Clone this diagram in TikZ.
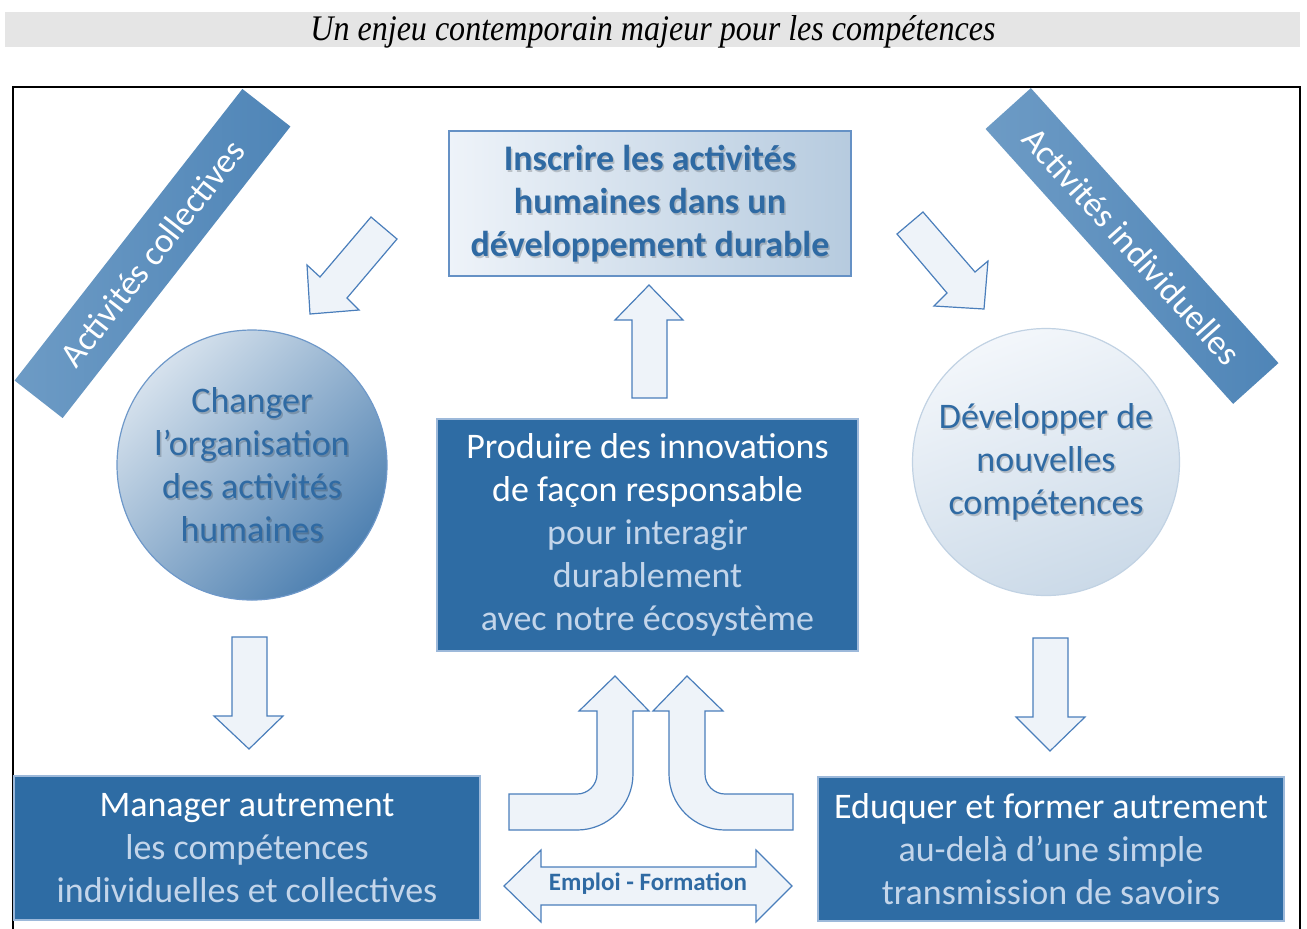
\documentclass[tikz,border=0pt]{standalone}
\usepackage{fontspec}
\setmainfont{Carlito}
\newfontfamily\titlefont{Liberation Serif}
\definecolor{darkbox}{HTML}{2E6CA4}
\definecolor{lighttext}{HTML}{C3D5EA}
\definecolor{boxedge}{HTML}{9DB9DA}
\definecolor{arrowfill}{HTML}{EEF3F9}
\definecolor{arrowdraw}{HTML}{4A7EBB}
\definecolor{bluetext}{HTML}{2F6AA3}
\definecolor{bannerlight}{HTML}{6D9BC5}
\definecolor{bannerdark}{HTML}{4F85B7}
\definecolor{titlebar}{HTML}{E5E5E5}
\newcommand\txtTop{Inscrire les activités\\humaines dans un\\développement durable}
\newcommand\txtLeft{Changer\\l’organisation\\des activités\\humaines}
\newcommand\txtRight{Développer de\\nouvelles\\compétences}
\begin{document}
\begin{tikzpicture}[x=0.5pt,y=-0.5pt,
  blockarrow/.style={fill=arrowfill, draw=arrowdraw, line width=0.6pt, line join=miter},
  darkbox/.style={rectangle, fill=darkbox, draw=boxedge, line width=0.6pt, inner sep=0pt,
    text=white, align=center, font=\fontsize{18}{21.5}\selectfont},
  banner/.style={rectangle, left color=bannerlight, right color=bannerdark, inner sep=0pt,
    minimum height=30.5pt, minimum width=185pt, text=white, font=\fontsize{17.5}{19}\selectfont},
  bluetxt/.style={align=center, text=bluetext, inner sep=0pt, font=\fontsize{18}{21.5}\selectfont},
  shadowtxt/.style={align=center, text=black, opacity=0.18, inner sep=0pt, font=\fontsize{18}{21.5}\selectfont},
  ring/.style={circle, inner sep=0pt, line width=0.6pt}]
\useasboundingbox (0,0) rectangle (1307,928);
% title
\fill[titlebar] (5,12) rectangle (1300,47);
\node[font=\titlefont\itshape\fontsize{18}{20}\selectfont, inner sep=0pt, anchor=base] (title) at (653,40)
  {\scalebox{0.89}[1]{Un enjeu contemporain majeur pour les compétences}};
% frame
\draw[line width=1pt] (13,935) -- (13,87) -- (1300,87) -- (1300,935);
% banners
\node[banner, rotate=52] (lban) at (152.5,253.5) {Activités collectives};
\node[banner, rotate=-48] (rban) at (1132,246) {Activités individuelles};
% top box
\node[rectangle, draw=arrowdraw!85, line width=0.6pt, left color=arrowfill, right color=bluetext!35,
  minimum width=201pt, minimum height=72.5pt, inner sep=0pt] (top) at (650,203.5) {};
\node[shadowtxt, font=\bfseries\fontsize{18}{21.5}\selectfont] at ([shift={(1.5,2)}]top.center) {\txtTop};
\node[bluetxt, font=\bfseries\fontsize{18}{21.5}\selectfont] (toptxt) at (top.center) {\txtTop};
% circles
\node[ring, minimum size=135pt, top color=bluetext!20, middle color=bluetext!55, bottom color=bluetext!85,
  shading angle=45, draw=arrowdraw!80] (lcirc) at (252,465) {};
\node[shadowtxt] at ([shift={(1.5,2)}]lcirc.center) {\txtLeft};
\node[bluetxt] (lctxt) at (lcirc.center) {\txtLeft};
\node[ring, minimum size=133.5pt, top color=arrowfill!70!white, bottom color=bluetext!25,
  shading angle=20, draw=bluetext!30] (rcirc) at (1046,462) {};
\node[shadowtxt] at ([shift={(1.5,2)}]rcirc.center) {\txtRight};
\node[bluetxt] (rctxt) at (rcirc.center) {\txtRight};
% dark boxes
\node[darkbox, minimum width=210.5pt, minimum height=116pt] (center) at (647.5,535)
  {Produire des innovations\\de façon responsable\\\textcolor{lighttext}{pour interagir}\\
   \textcolor{lighttext}{durablement}\\\textcolor{lighttext}{avec notre écosystème}};
\node[darkbox, minimum width=233pt, minimum height=72pt] (bl) at (247,848)
  {Manager autrement\\\textcolor{lighttext}{les compétences}\\\textcolor{lighttext}{individuelles et collectives}};
\node[darkbox, minimum width=233pt, minimum height=72pt] (br) at (1051,849)
  {Eduquer et former autrement\\\textcolor{lighttext}{au-delà d’une simple}\\\textcolor{lighttext}{transmission de savoirs}};
% block arrows
\draw[blockarrow] (632,398) -- (632,320) -- (615,320) -- (649,285) -- (683,320) -- (667,320) -- (667,398) -- cycle;
\draw[blockarrow] (371,217) -- (320,277) -- (307,265) -- (310,314) -- (359,310) -- (347,298) -- (397,239) -- cycle;
\draw[blockarrow] (923,212) -- (975,272) -- (988,261) -- (984,309) -- (934,306) -- (947,293) -- (897,234) -- cycle;
\draw[blockarrow] (232,637) -- (267,637) -- (267,716) -- (283,716) -- (249,749) -- (214,716) -- (232,716) -- cycle;
\draw[blockarrow] (1033,638) -- (1068,638) -- (1068,717) -- (1085,717) -- (1050,751) -- (1016,717) -- (1033,717) -- cycle;
\draw[blockarrow] (509,794) -- (577,794) .. controls (588,794) and (597,785) .. (597,774) -- (597,711) -- (579,711)
  -- (615,676) -- (649,711) -- (633,711) -- (633,774) .. controls (633,805) and (608,830) .. (577,830) -- (509,830) -- cycle;
\draw[blockarrow] (793,794) -- (725,794) .. controls (714,794) and (705,785) .. (705,774) -- (705,711) -- (723,711)
  -- (687,676) -- (653,711) -- (669,711) -- (669,774) .. controls (669,805) and (694,830) .. (725,830) -- (793,830) -- cycle;
\draw[blockarrow] (504,886) -- (541,850) -- (541,867) -- (756,867) -- (756,850) -- (792,886) -- (756,922)
  -- (756,905) -- (541,905) -- (541,922) -- cycle;
\node[text=bluetext, font=\bfseries\fontsize{12.5}{14}\selectfont, inner sep=0pt] (ef) at (648,884) {Emploi - Formation};
\end{tikzpicture}
\end{document}
